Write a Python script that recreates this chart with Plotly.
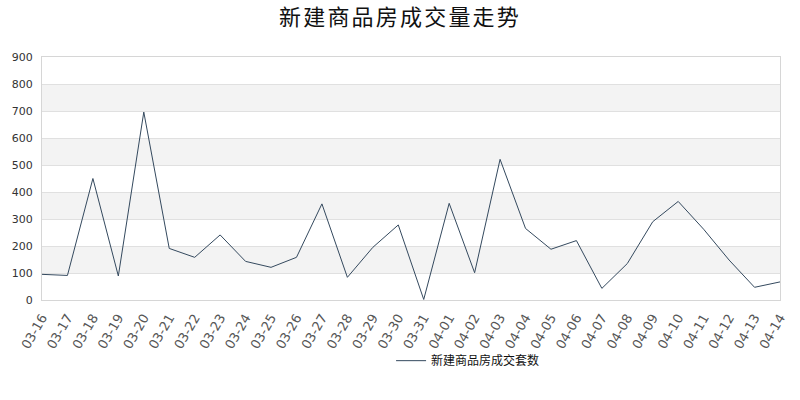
import plotly.graph_objects as go

dates = ["03-16", "03-17", "03-18", "03-19", "03-20", "03-21", "03-22", "03-23", "03-24", "03-25",
         "03-26", "03-27", "03-28", "03-29", "03-30", "03-31", "04-01", "04-02", "04-03", "04-04",
         "04-05", "04-06", "04-07", "04-08", "04-09", "04-10", "04-11", "04-12", "04-13", "04-14"]
units_sold = [95, 91, 450, 89, 696, 191, 158, 241, 143, 121,
              158, 356, 84, 195, 278, 2, 358, 101, 521, 265,
              188, 220, 43, 135, 290, 365, 262, 148, 47, 67]

title_text = "新建商品房成交量走势"
series_name = "新建商品房成交套数"
y_ticks = [0, 100, 200, 300, 400, 500, 600, 700, 800, 900]

line_color = "#34495e"
grid_color = "#e0e0e0"
band_color = "#f3f3f3"
border_color = "#d6d6d6"

fig = go.Figure()
fig.add_trace(go.Scatter(
    x=dates, y=units_sold, mode="lines", name=series_name,
    line=dict(color=line_color, width=1),
))

shapes = []
for i in range(1, len(y_ticks) - 1, 2):
    shapes.append(dict(type="rect", xref="paper", yref="y", x0=0, x1=1,
                       y0=y_ticks[i], y1=y_ticks[i + 1], fillcolor=band_color,
                       line=dict(width=0), layer="below"))

fig.update_layout(
    width=800, height=400,
    margin=dict(l=40, r=20, t=57, b=100),
    paper_bgcolor="white", plot_bgcolor="white",
    font=dict(family="DejaVu Sans, sans-serif", color="#333333"),
    title=dict(text='<span style="letter-spacing:2.2px">' + title_text + '</span>',
               x=0.5, xanchor="center", y=0.957, yanchor="middle",
               font=dict(family="Noto Sans CJK SC", size=22, color="#111111")),
    shapes=shapes,
    showlegend=True,
    legend=dict(orientation="h", x=0.473, xanchor="left", y=-0.19, yanchor="top",
                font=dict(family="Noto Sans CJK SC", size=12, color="#111111"),
                bgcolor="rgba(0,0,0,0)"),
    xaxis=dict(type="category", range=[0, len(dates) - 1], tickangle=-60,
               tickfont=dict(size=13, color="#555555"), showgrid=False,
               showline=True, linecolor=border_color, mirror=True, ticks="",
               ticklabelstandoff=4),
    yaxis=dict(range=[0, 900], tickvals=y_ticks, tickfont=dict(size=11, color="#333333"),
               gridcolor=grid_color, showline=True, linecolor=border_color, mirror=True,
               zeroline=False, ticks="", ticklabelstandoff=6),
)

fig.write_html("out.html", config={"displayModeBar": False},
               post_script="document.body.style.margin='0';")
